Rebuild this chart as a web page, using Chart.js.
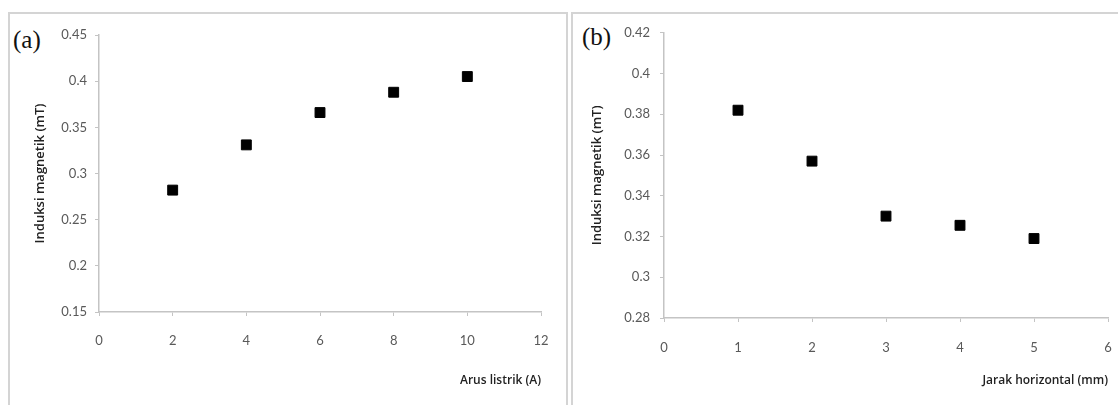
<!DOCTYPE html>
<html>
<head>
<meta charset="utf-8">
<script src="https://cdn.jsdelivr.net/npm/chart.js@4/dist/chart.umd.min.js"></script>
<style>
    body { margin: 0; background: #fff; width: 1118px; height: 405px; position: relative; overflow: hidden; }
    .frame { position: absolute; border: 2px solid #d4d4d4; border-bottom: none; }
    .tag { position: absolute; font-family: "Liberation Serif", serif; font-size: 25px; line-height: 1; color: #111; }
    canvas { position: absolute; }
</style>
</head>
<body>
<div class="frame" style="left:8px; top:12px; width:556px; height:400px;"></div>
<div class="frame" style="left:571px; top:12px; width:560px; height:400px;"></div>
<div class="tag" style="left:13px; top:27px;">(a)</div>
<div class="tag" style="left:582px; top:24px;">(b)</div>
<canvas id="chartA" width="556" height="390" style="left:10px; top:15px;"></canvas>
<canvas id="chartB" width="544" height="390" style="left:574px; top:15px;"></canvas>
<script>
// Panel (a): arus listrik vs induksi magnetik
const arusA = [2, 4, 6, 8, 10];
const induksiA = [0.282, 0.331, 0.366, 0.388, 0.405];

// Panel (b): jarak horizontal vs induksi magnetik
const jarakB = [1, 2, 3, 4, 5];
const induksiB = [0.382, 0.357, 0.330, 0.3255, 0.319];

const tickFont = { family: "Lato, 'Open Sans', sans-serif", size: 13 };
const titleFont = { family: "'Open Sans', sans-serif", size: 12, weight: '600' };
const tickColor = '#595959';
const axisColor = '#c4c4c4';

function buildChart(canvasId, xs, ys, opt) {
    const ctx = document.getElementById(canvasId).getContext('2d');
    return new Chart(ctx, {
        type: 'scatter',
        data: {
            datasets: [{
                data: xs.map((x, i) => ({ x: x, y: ys[i] })),
                pointStyle: 'rect',
                pointRadius: 7,
                pointBackgroundColor: '#000',
                pointBorderColor: '#000',
                pointBorderWidth: 1
            }]
        },
        options: {
            responsive: false,
            animation: false,
            layout: { padding: opt.padding },
            plugins: { legend: { display: false }, tooltip: { enabled: false } },
            scales: {
                x: {
                    type: 'linear',
                    min: opt.xMin, max: opt.xMax,
                    // fixed axis height, and no extra side padding from the tick labels
                    afterFit: s => { s.height = opt.xHeight; s.paddingLeft = 0; s.paddingRight = 0; },
                    border: { display: true, color: axisColor, width: 1.5 },
                    grid: { drawOnChartArea: false, drawTicks: true, tickLength: 4, color: axisColor },
                    ticks: { stepSize: opt.xStep, color: tickColor, font: tickFont, padding: opt.xTickPad, maxRotation: 0 },
                    title: { display: true, text: opt.xTitle, align: 'end', color: '#222', font: titleFont, padding: 0 }
                },
                y: {
                    min: opt.yMin, max: opt.yMax,
                    afterFit: s => { s.width = opt.yWidth; },
                    border: { display: true, color: axisColor, width: 1.5 },
                    grid: { drawOnChartArea: false, drawTicks: true, tickLength: 4, color: axisColor },
                    ticks: {
                        stepSize: opt.yStep, color: tickColor, font: tickFont, padding: opt.yTickPad,
                        callback: v => String(+v.toFixed(2))
                    },
                    title: {
                        display: true, text: 'Induksi magnetik (mT)', color: '#222',
                        font: { family: "'Open Sans', sans-serif", size: 13, weight: '600' },
                        padding: { top: opt.yTitlePad, bottom: 0 }
                    }
                }
            }
        }
    });
}

buildChart('chartA', arusA, induksiA, {
    padding: { left: 0, top: 20, right: 25, bottom: 17 },
    xMin: 0, xMax: 12, xStep: 2, xHeight: 76, xTickPad: 17, xTitle: 'Arus listrik (A)',
    yMin: 0.15, yMax: 0.45, yStep: 0.05, yWidth: 89, yTickPad: 8, yTitlePad: 22
});

buildChart('chartB', jarakB, induksiB, {
    padding: { left: 0, top: 14, right: 10, bottom: 17 },
    xMin: 0, xMax: 6, xStep: 1, xHeight: 70, xTickPad: 18, xTitle: 'Jarak horizontal (mm)',
    yMin: 0.28, yMax: 0.42, yStep: 0.02, yWidth: 90, yTickPad: 10, yTitlePad: 15
});
</script>
</body>
</html>
